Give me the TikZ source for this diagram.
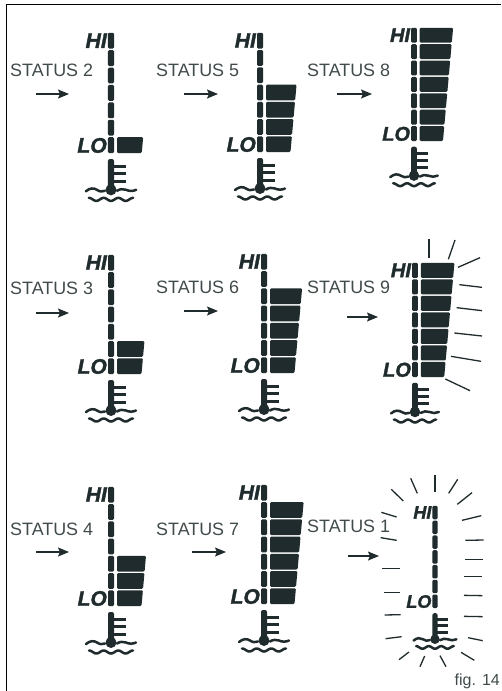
\documentclass[tikz,border=0pt]{standalone}
\usepackage{fontspec}
\setmainfont{Liberation Sans}
\newfontfamily\hlfont[BoldItalicFeatures={FakeBold=1.6}]{Liberation Sans}
\usetikzlibrary{arrows.meta}
\definecolor{ink}{HTML}{1F2B2C}
\tikzset{
  lbl/.style={inner sep=0pt,anchor=west,text=ink!85,font=\fontsize{17.9}{18}\selectfont},
  hilo/.style={inner sep=0pt,anchor=east,text=ink},
  arr/.style={ink,line width=1.4pt,-{Stealth[length=11pt,width=9pt,inset=2pt]}},
  ray/.style={ink,line width=1.3pt},
  fin/.style={ink,line width=3pt},
  wave/.style={ink,line width=2.5pt,line cap=round},
  frameline/.style={black,line width=1.3pt}
}
\newcommand{\gaugeat}[5]{% id, cx, top, bottom, bars
  \pgfmathsetmacro{\gS}{(#4-#3)/119}
  \pgfmathsetmacro{\gF}{21*\gS}
  \begin{scope}[shift={(#2,#3)},scale=\gS]
    \foreach \k in {0,...,6}{
      \pgfmathsetmacro{\yb}{119-\k*17.25}
      \pgfmathsetmacro{\yt}{\yb-15.7}
      \fill[ink,rounded corners=1.2pt] (-3,\yb) -- (-3,\yt) -- (3,\yt) -- (3,\yb) -- cycle;
    }
    \ifnum#5>0
    \foreach \k in {1,...,#5}{
      \pgfmathsetmacro{\yb}{119-(\k-1)*17.25}
      \pgfmathsetmacro{\yt}{\yb-15.7}
      \pgfmathsetmacro{\rb}{30.5+(\k-1)*1.55}
      \pgfmathsetmacro{\rt}{\rb+1.4}
      \fill[ink,rounded corners=1.2pt] (6,\yb) -- (6,\yt) -- (\rt,\yt) -- (\rb,\yb) -- cycle;
    }
    \fi
    \node[hilo,font=\fontsize{\gF}{\gF}\hlfont\bfseries\itshape] (hi#1) at (-4,7.5) {HI};
    \node[hilo,font=\fontsize{\gF}{\gF}\hlfont\bfseries\itshape] (lo#1) at (-4,111.5) {LO};
    \fill[ink,rounded corners=2pt] (-3,155) -- (-3,125) -- (3,125) -- (3,155) -- cycle;
    \fill[ink] (0,155.5) circle (5.5);
    \foreach \f in {132,139.5,147}{\draw[fin] (0,\f) -- (14.7,\f);}
    \draw[wave] (-25,157) .. controls (-21,153.5) and (-17,153.5) .. (-14,155.5) .. controls (-11,157.5) and (-9,157.5) .. (-6,156.5);
    \draw[wave] (6,156.5) .. controls (9,154.5) and (12,154.5) .. (15,155.5) .. controls (18,157) and (22,157) .. (25,155.5);
    \draw[wave] plot[domain=-22:22,samples=45,smooth] (\x,{165+1.5*sin(\x*360/14.6+90)});
  \end{scope}
}
\newcommand{\arrowat}[4]{% id, x1, x2, y
  \coordinate (as#1) at (#2,#4);
  \coordinate (ae#1) at (#3,#4);
  \draw[arr] (as#1) -- (ae#1);
}
\begin{document}
\begin{tikzpicture}[x=1pt,y=-1pt]
\useasboundingbox (0,0) rectangle (501,691);
\fill[white] (0,0) rectangle (501,691);
\coordinate (fa) at (6.5,691);
\coordinate (fb) at (6.5,4.5);
\coordinate (fc) at (501,4.5);
\draw[frameline] (fa) -- (fb) -- (fc);
\gaugeat{a}{111}{33}{153}{1}
\gaugeat{b}{260}{33}{152}{4}
\gaugeat{c}{414}{28}{141}{7}
\gaugeat{d}{111}{255}{374}{2}
\gaugeat{e}{264}{254}{373}{5}
\gaugeat{f}{415}{263}{377}{7}
\gaugeat{g}{111}{487}{606}{3}
\gaugeat{h}{264}{485}{604}{6}
\gaugeat{i}{435}{506}{608}{0}
\node[lbl] (sa) at (10,70) {STATUS 2};
\node[lbl] (sb) at (156,70.5) {STATUS 5};
\node[lbl] (sc) at (307,70.5) {STATUS 8};
\node[lbl] (sd) at (10,288) {STATUS 3};
\node[lbl] (se) at (156,287) {STATUS 6};
\node[lbl] (sf) at (307,287.5) {STATUS 9};
\node[lbl] (sg) at (10,529.5) {STATUS 4};
\node[lbl] (sh) at (156,529.5) {STATUS 7};
\node[lbl] (si) at (307,526) {STATUS 1};
\arrowat{a}{36}{69}{94}
\arrowat{b}{184}{218}{94}
\arrowat{c}{337}{372}{94}
\arrowat{d}{36}{69}{313}
\arrowat{e}{184}{218}{311}
\arrowat{f}{347}{378}{317}
\arrowat{g}{36}{69}{552}
\arrowat{h}{192}{226}{552}
\arrowat{i}{348}{379}{556}
\begin{scope}[shift={(300,220)},scale=1/3]
\foreach \xa/\ya/\xb/\yb in {387/57/387/113,465/60/445/118,540/113/474/142,546/202/478/194,546/272/470/263,546/348/463/339,543/424/453/409,510/512/436/477}
  {\draw[ray] (\xa,\ya) -- (\xb,\yb);}
\end{scope}
\begin{scope}[shift={(300,440)},scale=1/3]
\foreach \xa/\ya/\xb/\yb in {405/105/405/155,332/115/352/160,274/148/310/183,244/217/290/231,242/293/290/301,246/384.5/300/384.5,252/456.5/300/456.5,254/525/302/524,257/596/305/590,297/659/327/636,360/680/374/648,438/680/420/647,523/661/483/637,548/602/504/593,548/530/492/529,547/467/492/466,546/410/492/410,548/358/494/358,551/300/496/301,544/227/486/241,516/158/472/193,473/118/446/160}
  {\draw[ray] (\xa,\ya) -- (\xb,\yb);}
\end{scope}
\node[inner sep=0pt,anchor=east,text=ink!85,font=\fontsize{16}{16}\selectfont] (figl) at (500,681) {fig. 14};
\end{tikzpicture}
\end{document}
